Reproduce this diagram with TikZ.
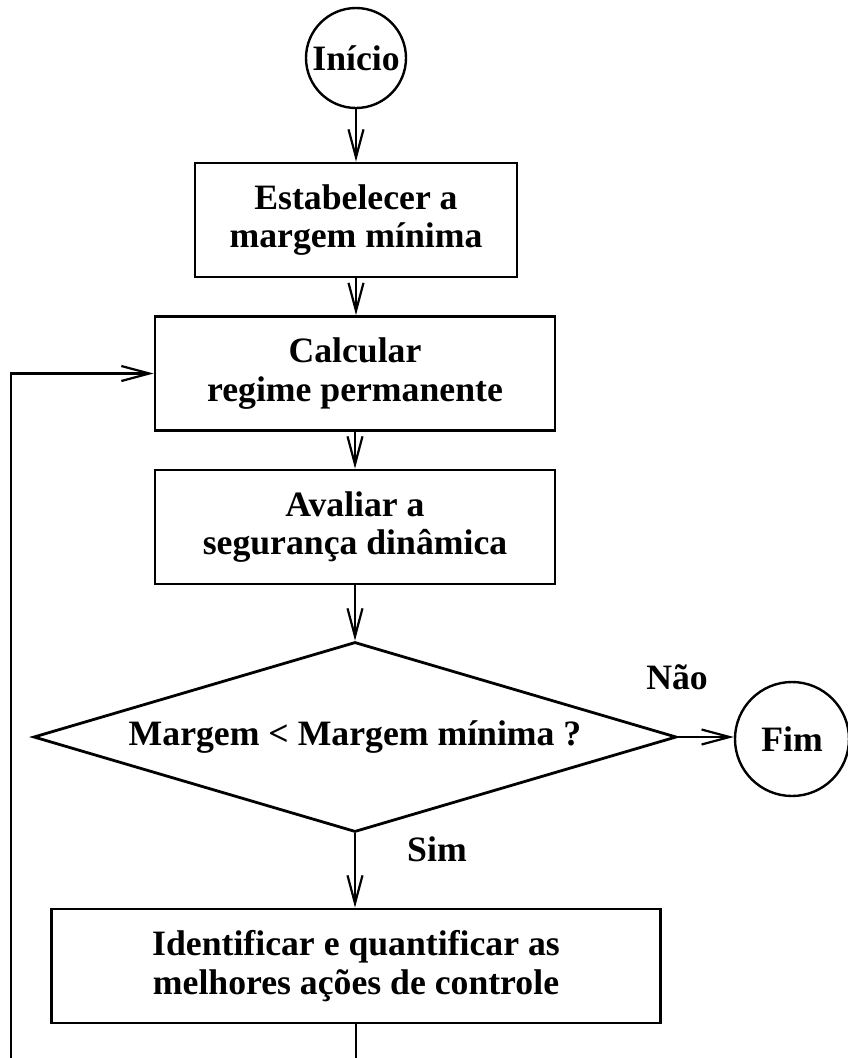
\documentclass[tikz,border=0pt]{standalone}
\usepackage{fontspec}
\setmainfont{Liberation Serif}
\usetikzlibrary{arrows.meta,shapes.geometric}
\begin{document}
\begin{tikzpicture}[x=1pt,y=-1pt,
  every node/.style={font=\fontsize{35.7}{38.5}\selectfont\bfseries},
  procbox/.style={draw,line width=2.8pt,align=center,inner sep=0pt,minimum height=114pt},
  terminal/.style={draw,circle,line width=2.4pt,inner sep=0pt},
  decision/.style={draw,diamond,line width=2.8pt,inner sep=0pt,minimum width=643pt,minimum height=190pt},
  flow/.style={line width=2.2pt,-{Straight Barb[length=28pt,width=15pt,line width=2.2pt]}},
  plain/.style={line width=2.2pt}]
\useasboundingbox (0,0) rectangle (847,1058);

% nodes of the chart, main column at x = 356
\node[terminal,minimum size=100pt] (inicio) at (356,58) {};
\node at (inicio.center) {Início};
\node[procbox,minimum width=322pt] (estab) at (356,220) {Estabelecer a\\margem mínima};
\node[procbox,minimum width=400pt] (calc) at (355,373.5) {Calcular\\regime permanente};
\node[procbox,minimum width=400pt] (aval) at (355,527) {Avaliar a\\segurança dinâmica};
\node[decision] (dec) at (355,737) {};
\node (dectext) at (dec.center) {Margem < Margem mínima ?};
\node[terminal,minimum size=114pt] (fim) at (792,739) {Fim};
\node[procbox,minimum width=609pt] (ident) at (356,966) {Identificar e quantificar as\\melhores ações de controle};

% branch labels
\node (nao) at (677,677) {Não};
\node (sim) at (437,849) {Sim};

% connectors
\draw[flow] (inicio.south) -- (estab.north);
\draw[flow] (estab.south) -- (estab.south |- calc.north);
\draw[flow] (calc.south) -- (aval.north);
\draw[flow] (aval.south) -- (dec.north);
\draw[flow] (dec.east) -- (dec.east -| fim.west);
\draw[flow] (dec.south) -- (dec.south |- ident.north);

% return path
\coordinate (retdown) at (356,1060);
\coordinate (retleft) at (11,1060);
\coordinate (retup) at (11,373.5);
\draw[plain] (ident.south) -- (retdown);
\draw[flow] (retleft) -- (retup) -- (calc.west);
\end{tikzpicture}
\end{document}
